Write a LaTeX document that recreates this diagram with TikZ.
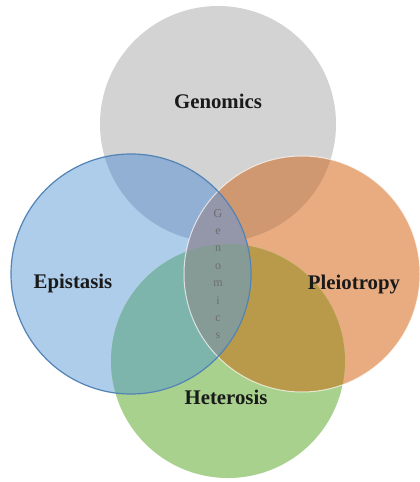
\documentclass[tikz,border=0pt]{standalone}
\usepackage{fontspec}
\setmainfont{Liberation Serif}
\usetikzlibrary{positioning}
\definecolor{genogray}  {HTML}{D3D3D3}
\definecolor{episblue}  {HTML}{AECDEB}
\definecolor{episline}  {HTML}{5283B5}
\definecolor{pleiorange}{HTML}{E8AC80}
\definecolor{hetegreen} {HTML}{A7D18C}
\definecolor{genoepis}  {HTML}{92B0D3}
\definecolor{genopleio} {HTML}{D09870}
\definecolor{epishete}  {HTML}{7DB5AD}
\definecolor{pleiohete} {HTML}{B99A4A}
\definecolor{corelens}  {HTML}{9496AA}
\definecolor{corehete}  {HTML}{879B96}
\definecolor{inktext}   {HTML}{1A1A1A}
\definecolor{lettergray}{HTML}{6E6E6E}

\newcommand{\rGeno}{118pt}
\newcommand{\rEpis}{120pt}
\newcommand{\rPleio}{118pt}
\newcommand{\rHete}{117pt}

\tikzset{
  setdisc/.style={circle, inner sep=0pt, minimum size=#1},
  setlabel/.style={font=\fontsize{20.8}{24}\selectfont\bfseries, text=inktext},
}

\begin{document}
\begin{tikzpicture}[x=1pt,y=-1pt]
        \useasboundingbox[fill=white] (0,0) rectangle (420,482);
        % the four sets
        \node[setdisc=236pt, fill=genogray] (genomics) at (218,124) {};
        \node[setdisc=240pt, fill=episblue] (epistasis) at (131,274) {};
        \node[setdisc=236pt, fill=pleiorange] (pleiotropy) at (302,274) {};
        \node[setdisc=234pt, fill=hetegreen] (heterosis) at (228,361) {};
        % overlaps
        \begin{scope}
          \clip (genomics.center) circle[radius=\rGeno];
          \fill[genoepis] (epistasis.center) circle[radius=\rEpis];
          \fill[genopleio] (pleiotropy.center) circle[radius=\rPleio];
        \end{scope}
        \begin{scope}
          \clip (heterosis.center) circle[radius=\rHete];
          \fill[epishete] (epistasis.center) circle[radius=\rEpis];
          \fill[pleiohete] (pleiotropy.center) circle[radius=\rPleio];
        \end{scope}
        \begin{scope}
          \clip (epistasis.center) circle[radius=\rEpis];
          \fill[corelens] (pleiotropy.center) circle[radius=\rPleio];
          \clip (pleiotropy.center) circle[radius=\rPleio];
          \fill[corehete] (heterosis.center) circle[radius=\rHete];
        \end{scope}
        % outlines
        \draw[white, line width=1pt, opacity=0.7] (pleiotropy.center) circle[radius=\rPleio];
        \draw[episline, line width=1.2pt] (epistasis.center) circle[radius=\rEpis];
        % labels
        \node[setlabel] (genolabel) at (218,101) {Genomics};
        \node[setlabel] (epislabel) at (73,283) {Epistasis};
        \node[setlabel] (pleiolabel) at (354,285) {Pleiotropy};
        \node[setlabel] (hetelabel) at (226,397) {Heterosis};
        \node[text=lettergray, font=\fontsize{12}{17.4}\selectfont, align=center,
          inner sep=0pt] (core) at (218,274) {G\\e\\n\\o\\m\\i\\c\\s};
      \end{tikzpicture}
\end{document}
